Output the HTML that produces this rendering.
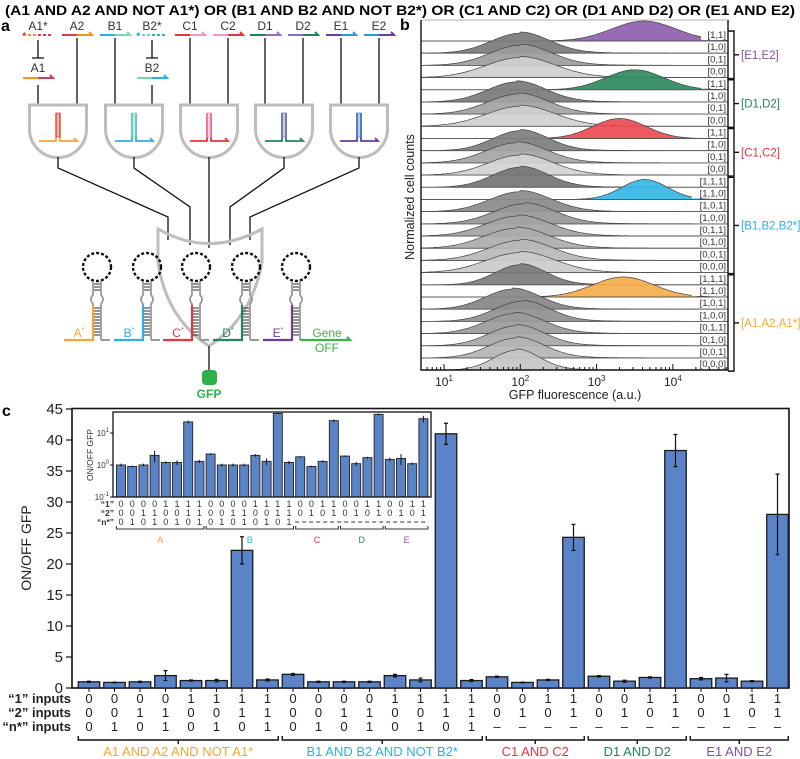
<!DOCTYPE html>
<html><head><meta charset="utf-8"><style>
html,body{margin:0;padding:0;background:#fff;width:800px;height:759px;overflow:hidden}
svg{display:block;font-family:"Liberation Sans",Arial,sans-serif}
</style></head><body>
<svg id="fig" width="800" height="759" viewBox="0 0 800 759" xmlns="http://www.w3.org/2000/svg">
<text x="400" y="15" text-anchor="middle" font-size="14" font-weight="bold" textLength="790" lengthAdjust="spacingAndGlyphs">(A1 AND A2 AND NOT A1*) OR (B1 AND B2 AND NOT B2*) OR (C1 AND C2) OR (D1 AND D2) OR (E1 AND E2)</text>
<text x="1" y="31" font-size="16" font-weight="bold">a</text>
<text x="400" y="30" font-size="16" font-weight="bold">b</text>
<text x="2" y="416" font-size="16" font-weight="bold">c</text>
<g id="pa"></g>
<g id="pb"></g>
<g id="pc"></g>
</svg>
<script>
// ---------- DATA ----------
const barCategories=["A","A","A","A","A","A","A","A","B","B","B","B","B","B","B","B","C","C","C","C","D","D","D","D","E","E","E","E"];
const barValues=[1.0,0.9,1.0,2.0,1.2,1.2,22.2,1.3, 2.2,1.0,1.0,1.0,2.0,1.3,41.0,1.2, 1.8,0.9,1.3,24.3, 1.9,1.1,1.7,38.3, 1.5,1.6,1.1,28.0];
const barErrors=[0.1,0.05,0.1,0.8,0.1,0.2,2.2,0.15, 0.15,0.1,0.1,0.1,0.2,0.3,1.7,0.15, 0.1,0.05,0.1,2.1, 0.1,0.15,0.1,2.6, 0.2,0.6,0.1,6.5];
const input1=["0","0","0","0","1","1","1","1","0","0","0","0","1","1","1","1","0","0","1","1","0","0","1","1","0","0","1","1"];
const input2=["0","0","1","1","0","0","1","1","0","0","1","1","0","0","1","1","0","1","0","1","0","1","0","1","0","1","0","1"];
const inputN=["0","1","0","1","0","1","0","1","0","1","0","1","0","1","0","1","–","–","–","–","–","–","–","–","–","–","–","–"];
const yTicks=[0,5,10,15,20,25,30,35,40,45];
const insetTicks=[-1,0,1];
const groupNames=["A1 AND A2 AND NOT A1*","B1 AND B2 AND NOT B2*","C1 AND C2","D1 AND D2","E1 AND E2"];
const groupShort=["A","B","C","D","E"];
const groupColors=["#f7a535","#2bb0e4","#e8343f","#22855a","#7f4fa8"];
const groupStart=[0,8,16,20,24];
const groupLen=[8,8,4,4,4];
// histogram rows (top to bottom)
const histLabels=["[1,1]","[1,0]","[0,1]","[0,0]","[1,1]","[1,0]","[0,1]","[0,0]","[1,1]","[1,0]","[0,1]","[0,0]","[1,1,1]","[1,1,0]","[1,0,1]","[1,0,0]","[0,1,1]","[0,1,0]","[0,0,1]","[0,0,0]","[1,1,1]","[1,1,0]","[1,0,1]","[1,0,0]","[0,1,1]","[0,1,0]","[0,0,1]","[0,0,0]"];
const histPeakLog=[3.62,2.0,2.0,2.0, 3.5,1.95,1.97,2.0, 3.3,2.0,1.95,2.0, 2.0,3.63,2.0,2.05,1.97,1.95,2.0,2.0, 2.0,3.35,1.9,2.02,1.93,1.95,1.95,1.95];
const histWidth=[0.42,0.38,0.4,0.45, 0.38,0.38,0.4,0.45, 0.35,0.36,0.4,0.42, 0.36,0.3,0.4,0.4,0.42,0.42,0.42,0.45, 0.33,0.4,0.36,0.36,0.38,0.36,0.36,0.3];
const histFill=["#8f5fae","#7a7a7a","#9d9d9d","#cfcfcf","#2e8a5e","#7a7a7a","#a2a2a2","#d0d0d0","#ec4c55","#7d7d7d","#a5a5a5","#d2d2d2","#747474","#35b6e8","#8a8a8a","#979797","#a3a3a3","#adadad","#b9b9b9","#cbcbcb","#7b7b7b","#f6ad4b","#858585","#8f8f8f","#9a9a9a","#a7a7a7","#b4b4b4","#c6c6c6"];
const histGroupNames=["[E1,E2]","[D1,D2]","[C1,C2]","[B1,B2,B2*]","[A1,A2,A1*]"];
const histGroupColors=["#7f4fa8","#22855a","#e8343f","#2bb0e4","#f7a535"];
const histGroupStart=[0,4,8,12,20];
const histGroupLen=[4,4,4,8,8];
const xDecades=[1,2,3,4];

const NS="http://www.w3.org/2000/svg";
function mk(tag,attrs,parent){const e=document.createElementNS(NS,tag);for(const k in attrs)e.setAttribute(k,attrs[k]);parent.appendChild(e);return e;}

// ---------- PANEL C main ----------
const pc=document.getElementById('pc');
const cx0=89, cdx=25.5, cbw=21.5, y0=688, ppu=6.2;
const xC=i=>cx0+i*cdx;
const yC=v=>y0-v*ppu;
let f=mk('rect',{x:72,y:408.5,width:717,height:279.5,fill:'none',stroke:'#111','stroke-width':1.6},pc);


yTicks.forEach(t=>{
  let tl=mk('line',{x1:66,x2:72,y1:yC(t),y2:yC(t),stroke:'#111','stroke-width':1.2},pc);
  
  
  let tx=mk('text',{x:63,y:yC(t)+5,'text-anchor':'end','font-size':15,fill:'#222'},pc);
  tx.textContent=t;
  
  
});
let yt=mk('text',{x:0,y:0,transform:'translate(31,548) rotate(-90)','text-anchor':'middle','font-size':14,fill:'#222'},pc);
yt.textContent='ON/OFF GFP';


barValues.forEach((v,i)=>{
  let r=mk('rect',{x:xC(i)-cbw/2,y:yC(v),width:cbw,height:y0-yC(v),fill:'#5a84c7',stroke:'#1a1a1a','stroke-width':1.3},pc);
  
  
  const e=barErrors[i];
  let el=mk('path',{d:`M${xC(i)},${yC(v+e)}V${yC(v-e)}M${xC(i)-2},${yC(v+e)}h4M${xC(i)-2},${yC(v-e)}h4`,stroke:'#111','stroke-width':1.2,fill:'none'},pc);
  
  
  let tk=mk('line',{x1:xC(i),x2:xC(i),y1:688,y2:692,stroke:'#111','stroke-width':1},pc);
  
  
  [[input1,703],[input2,717],[inputN,731]].forEach(([arr,yy])=>{
    let t=mk('text',{x:xC(i),y:yy,'text-anchor':'middle','font-size':13,fill:'#222'},pc);
    t.textContent=arr[i];
    
    
  });
});
[['“1” inputs',703],['“2” inputs',717],['“n*” inputs',731]].forEach(([s,yy])=>{
  let t=mk('text',{x:71,y:yy,'text-anchor':'end','font-size':13,'font-weight':'bold',fill:'#222'},pc);
  t.textContent=s;
  
  
});
groupNames.forEach((g,k)=>{
  const a=xC(groupStart[k])-cbw/2, b=xC(groupStart[k]+groupLen[k]-1)+cbw/2, m=(a+b)/2;
  let br=mk('path',{d:`M${a},736V740H${b}V736M${m},740v4`,stroke:'#111','stroke-width':1.4,fill:'none'},pc);
  
  
  let t=mk('text',{x:m,y:756,'text-anchor':'middle','font-size':13,fill:groupColors[k]},pc);
  t.textContent=g;
  
  
});
// ---------- INSET ----------
const ix0=121, idx=11.2, ibw=9, iyTop=412, iyBot=497, idec=32;
const xI=i=>ix0+i*idx;
const yI=v=>465-Math.log10(Math.max(v,0.1))*idec;
let ibg=mk('rect',{x:113,y:412,width:318,height:85,fill:'#fff',stroke:'none'},pc);


barValues.forEach((v,i)=>{
  let r=mk('rect',{x:xI(i)-ibw/2,y:yI(v),width:ibw,height:iyBot-yI(v),fill:'#5a84c7',stroke:'#222','stroke-width':0.9},pc);
  
  
  const e=barErrors[i];
  let el=mk('path',{d:`M${xI(i)},${Math.max(yI(v+e),412)}V${yI(v-e)}`,stroke:'#111','stroke-width':1},pc);
  
  
  [[input1,507],[input2,516],[inputN,525]].forEach(([arr,yy],r2)=>{
    if(r2===2&&arr[i]==='–')return;
    let t=mk('text',{x:xI(i),y:yy,'text-anchor':'middle','font-size':9,fill:'#333'},pc);
    t.textContent=arr[i];
    
    
  });
});
let dsh=mk('line',{x1:xI(16)-5,x2:xI(27)+5,y1:522,y2:522,stroke:'#333','stroke-width':0.9,'stroke-dasharray':'4,3'},pc);


let ifr=mk('rect',{x:113,y:412,width:318,height:85,fill:'none',stroke:'#111','stroke-width':1.3},pc);


insetTicks.forEach(t=>{
  const yy=465-t*idec;
  let tl=mk('line',{x1:110,x2:113,y1:yy,y2:yy,stroke:'#111'},pc);
  
  
  let tx=mk('text',{x:109,y:yy+3,'text-anchor':'end','font-size':8,fill:'#333'},pc);
  tx.textContent='10';
  
  
  let sp=mk('tspan',{dy:-4,'font-size':6},tx);
  sp.textContent=t;
});
let iyt=mk('text',{x:0,y:0,transform:'translate(93,455) rotate(-90)','text-anchor':'middle','font-size':8.5,fill:'#333'},pc);
iyt.textContent='ON/OFF GFP';


[['“1”',507],['“2”',516],['“n*”',525]].forEach(([s,yy])=>{
  let t=mk('text',{x:114,y:yy,'text-anchor':'end','font-size':8.5,'font-weight':'bold',fill:'#333'},pc);
  t.textContent=s;
  
  
});
groupShort.forEach((g,k)=>{
  const a=xI(groupStart[k])-ibw/2, b=xI(groupStart[k]+groupLen[k]-1)+ibw/2;
  let br=mk('path',{d:`M${a},526V529H${b}V526`,stroke:'#333','stroke-width':1.1,fill:'none'},pc);
  
  
  let t=mk('text',{x:(a+b)/2,y:543,'text-anchor':'middle','font-size':9,fill:groupColors[k]},pc);
  t.textContent=g;
  
  
});

// ---------- PANEL B ----------
const pb=document.getElementById('pb');
const bx=l=>444+(l-1)*76.3;
const rowBase=i=>41+i*12.19;
const bL=421,bR=728;
histLabels.forEach((lab,i)=>{
  const base=rowBase(i), c=histPeakLog[i], w=histWidth[i];
  let d=`M${bL},${base}`;
  for(let x=bL;x<=bR;x+=2){
    const l=1+(x-444)/76.3;
    const z=(l-c)/w;
    const tail=(c<2.5)?0.06*Math.exp(-Math.max(0,l-c)/0.9)*(l>c?1:0):0;
    const h=20*(Math.exp(-z*z/2)+tail);
    d+=`L${x},${(base-h).toFixed(1)}`;
  }
  d+=`L${bR},${base}Z`;
  let p=mk('path',{d:d,fill:histFill[i],'fill-opacity':0.92,stroke:'#444','stroke-width':0.7},pb);
  
  
  let bl=mk('line',{x1:bL,x2:bR,y1:base,y2:base,stroke:'#555','stroke-width':0.8},pb);
  
  
});
histLabels.forEach((lab,i)=>{
  const base=rowBase(i);
  const wdt=lab.length*4.6+3;
  let r=mk('rect',{x:bR-wdt-1,y:base-11,width:wdt,height:10,fill:'#fff'},pb);
  
  
  let t=mk('text',{x:bR-2,y:base-3,'text-anchor':'end','font-size':9.5,fill:'#333'},pb);
  t.textContent=lab;
  
  
});
let bfr=mk('path',{d:`M${bL},20V370H${bR}V20`,fill:'none',stroke:'#111','stroke-width':1.4},pb);


let btop=mk('line',{x1:bL,x2:bR,y1:20,y2:20,stroke:'#999','stroke-width':0.8},pb);


for(let dcd=0;dcd<=4;dcd++){for(let m=1;m<10;m++){
  const l=dcd+Math.log10(m); const x=bx(l);
  if(x<bL||x>bR)continue;
  let tk=mk('line',{x1:x,x2:x,y1:370,y2:m===1?364:367,stroke:'#111','stroke-width':1},pb);
  
  
}}
xDecades.forEach(dd=>{
  let t=mk('text',{x:bx(dd),y:386,'text-anchor':'middle','font-size':12,fill:'#222'},pb);
  t.textContent='10';
  
  
  let sp=mk('tspan',{dy:-5,'font-size':8},t);
  sp.textContent=dd;
});
let bxt=mk('text',{x:575,y:399,'text-anchor':'middle','font-size':12.5,fill:'#222'},pb);
bxt.textContent='GFP fluorescence (a.u.)';


let byt=mk('text',{x:0,y:0,transform:'translate(414,197) rotate(-90)','text-anchor':'middle','font-size':12.5,fill:'#222'},pb);
byt.textContent='Normalized cell counts';


histGroupNames.forEach((g,k)=>{
  const top=rowBase(histGroupStart[k])-10, bot=rowBase(histGroupStart[k]+histGroupLen[k]-1)+1, m=(top+bot)/2;
  let br=mk('path',{d:`M728,${top}H734V${bot}H728M734,${m}h5`,fill:'none',stroke:'#111','stroke-width':1.4},pb);
  
  
  let t=mk('text',{x:741,y:m+4,'font-size':11.5,fill:histGroupColors[k]},pb);
  t.textContent=g;
  
  
});

// ---------- PANEL A ----------
const pa=document.getElementById('pa');
const inputs=[['A1*',38,'#f7941d','#d43a5c',1],['A2',77,'#d43a5c','#f7941d',0],['B1',115,'#2bb0e4','#7fd3b5',0],['B2*',152,'#7fd3b5','#2bb0e4',1],['C1',190,'#e8343f','#f09ac8',0],['C2',228,'#f09ac8','#e8343f',0],['D1',265,'#22855a','#8e6ec0',0],['D2',303,'#8e6ec0','#22855a',0],['E1',341,'#6a3d9a','#2b9ad8',0],['E2',379,'#2b9ad8','#6a3d9a',0]];
inputs.forEach(([lab,x,c1,c2,dash])=>{
  let t=mk('text',{x:x,y:30,'text-anchor':'middle','font-size':12,fill:'#333'},pa);
  t.textContent=lab;
  
  
  const da=dash?{'stroke-dasharray':'3,2'}:{};
  let l1=mk('line',Object.assign({x1:x-15,x2:x,y1:35,y2:35,stroke:c1,'stroke-width':2},da),pa);
  
  
  let l2=mk('path',Object.assign({d:dash?`M${x},35h15M${x-15},35l3,-3`:`M${x},35h15l-3,-3`,stroke:c2,'stroke-width':2,fill:'none'},da),pa);
  
  
  let v=mk('line',{x1:x,x2:x,y1:dash?40:38,y2:dash?58:105,stroke:'#111','stroke-width':1.3},pa);
  
  
  if(dash){
    let tb=mk('path',{d:`M${x-6},58h12M${x},85V105`,stroke:'#111','stroke-width':1.3},pa);
    
    
    let t2=mk('text',{x:x,y:72,'text-anchor':'middle','font-size':12,fill:'#333'},pa);
    t2.textContent=lab.replace('*','');
    
    
    let a2=mk('path',{d:`M${x-15},78h15`,stroke:c2==='#d43a5c'?'#f7941d':'#7fd3b5','stroke-width':2},pa);
    
    
    let a3=mk('path',{d:`M${x},78h15l-3,-3`,stroke:dash&&lab==='A1*'?'#d43a5c':'#2bb0e4','stroke-width':2,fill:'none'},pa);
    
    
  }
});
const gates=[[58,'#f7a535','#d43a5c'],[134,'#2bb0e4','#7fd3b5'],[209,'#e8343f','#f09ac8'],[284,'#22855a','#8e6ec0'],[359,'#6a3d9a','#2b9ad8']];
const outPaths=['M58,157V168L168,217V240','M134,157V168L190,207V245','M209,157V248','M284,157V168L230,207V245','M359,157V168L250,217V240'];
gates.forEach(([cx,c1,c2],k)=>{
  let g=mk('path',{d:`M${cx-28.5},105H${cx+28.5}V129A28.5,28.5 0 0 1 ${cx-28.5},129Z`,fill:'#fff',stroke:'#bdbdbd','stroke-width':3},pa);
  
  
  let s=mk('path',{d:`M${cx-19},141H${cx-2}V113M${cx+2},113V141H${cx+19}l-3,-3`,fill:'none',stroke:c1,'stroke-width':1.8},pa);
  
  
  let h=mk('rect',{x:cx-2,y:113,width:4,height:24,fill:c2,'fill-opacity':0.4,stroke:c2,'stroke-width':0.8},pa);
  
  
  let o=mk('path',{d:outPaths[k],fill:'none',stroke:'#111','stroke-width':1.3},pa);
  
  
});
let orG=mk('path',{d:'M158,229Q209,258 262,229L262,262Q252,318 209,346Q166,318 158,262Z',fill:'none',stroke:'#bdbdbd','stroke-width':3},pa);


const hp=[[97,'#f7a535','A*'],[147,'#2bb0e4','B*'],[196,'#e8343f','C*'],[246,'#22855a','D*'],[296,'#6a3d9a','E*']];
hp.forEach(([x,c,lab],k)=>{
  let lp=mk('circle',{cx:x,cy:267,r:14,fill:'none',stroke:'#111','stroke-width':2.4,'stroke-dasharray':'3,2'},pa);
  
  
  let st=mk('path',{d:`M${x-4},281V295Q${x-8},299 ${x-4},304V340M${x+4},281V295Q${x+8},299 ${x+4},304V340`,fill:'none',stroke:'#999','stroke-width':1.8},pa);
  
  
  for(let yy=284;yy<338;yy+=3){ if(yy>292&&yy<306)continue;
    let r=mk('line',{x1:x-3,x2:x+3,y1:yy,y2:yy,stroke:'#111','stroke-width':0.9},pa);
    
    
  }
  let cs=mk('path',{d:`M${x-4},305V340H${x-33}`,fill:'none',stroke:c,'stroke-width':2.2},pa);
  
  
  let gl=mk('line',{x1:x+4,x2:x+13,y1:340,y2:340,stroke:'#999','stroke-width':2},pa);
  
  
  let t=mk('text',{x:x-18,y:337,'text-anchor':'middle','font-size':12,fill:c},pa);
  t.textContent=lab.replace('*','');
  
  
  let sp=mk('tspan',{dy:-5,'font-size':7},t);
  sp.textContent='*';
});
let gene=mk('path',{d:'M300,340H350l-3,-3',fill:'none',stroke:'#3bb54a','stroke-width':2.2},pa);


let gt1=mk('text',{x:327,y:337,'text-anchor':'middle','font-size':12,fill:'#3bb54a'},pa);
gt1.textContent='Gene';


let gt2=mk('text',{x:327,y:352,'text-anchor':'middle','font-size':12,fill:'#3bb54a'},pa);
gt2.textContent='OFF';


let gw=mk('line',{x1:209,x2:209,y1:346,y2:370,stroke:'#111','stroke-width':1.3},pa);


let gb=mk('rect',{x:202,y:370,width:15,height:15,rx:4,fill:'#2db24a'},pa);


let gft=mk('text',{x:209,y:398,'text-anchor':'middle','font-size':12,'font-weight':'bold',fill:'#2db24a'},pa);
gft.textContent='GFP';


</script>
</body></html>
